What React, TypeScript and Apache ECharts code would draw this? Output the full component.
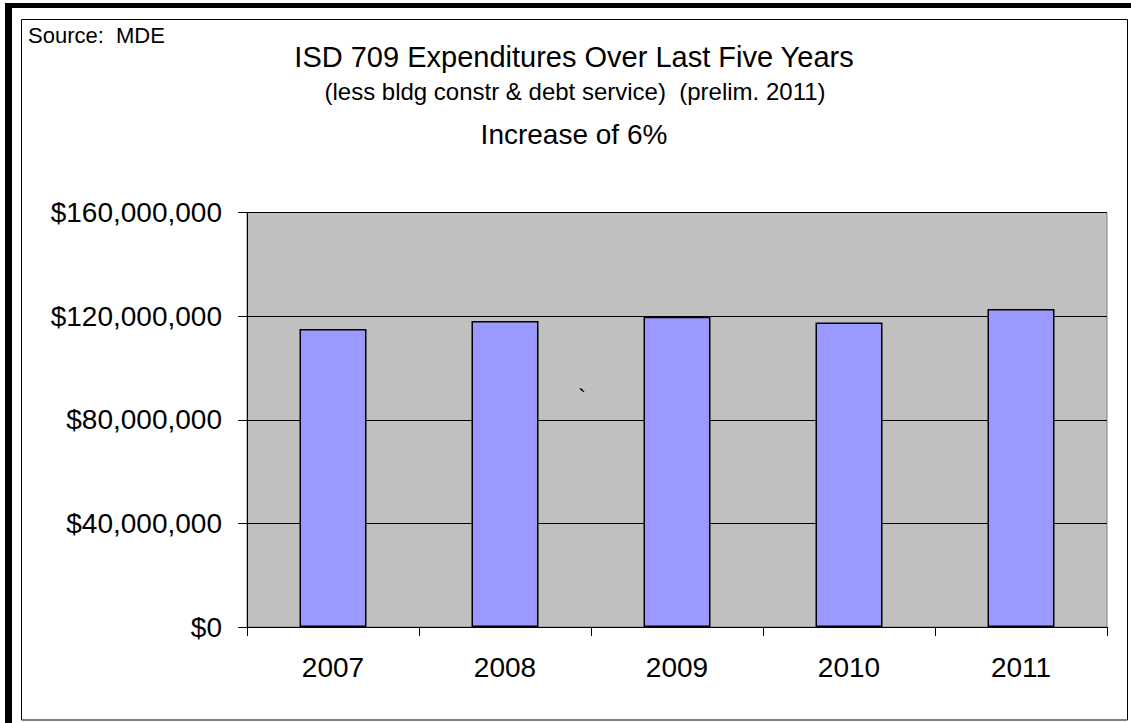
import React, { useEffect, useRef } from "react";
import * as echarts from "echarts";

const categories = ["2007", "2008", "2009", "2010", "2011"];
const expenditures = [115000000, 118100000, 119800000, 117500000, 122750000];
const yTicks = { min: 0, max: 160000000, interval: 40000000 };
const titleText = "ISD 709 Expenditures Over Last Five Years";
const subtitleText = "(less bldg constr & debt service)  (prelim. 2011)";
const increaseText = "Increase of 6%";
const sourceText = "Source:  MDE";

const FONT = '"Liberation Sans", Arial, sans-serif';

export default function App() {
  const ref = useRef<HTMLDivElement>(null);
  useEffect(() => {
    if (!ref.current) return;
    const chart = echarts.init(ref.current, null, { renderer: "svg" });
    chart.setOption({
      animation: false,
      backgroundColor: "#ffffff",
      textStyle: { fontFamily: FONT },
      grid: {
        left: 247,
        right: 24,
        top: 212.5,
        bottom: 96,
        show: true,
        backgroundColor: "#C0C0C0",
        borderColor: "#808080",
        borderWidth: 1,
      },
      xAxis: {
        type: "category",
        data: categories,
        boundaryGap: true,
        axisLine: { show: true, lineStyle: { color: "#000", width: 1 } },
        axisTick: { show: true, interval: 0, length: 9, inside: false, lineStyle: { color: "#000" } },
        axisLabel: { color: "#000", fontSize: 28, fontFamily: FONT, margin: 26, interval: 0 },
        splitLine: { show: false },
      },
      yAxis: {
        type: "value",
        min: yTicks.min,
        max: yTicks.max,
        interval: yTicks.interval,
        axisLine: { show: true, lineStyle: { color: "#000", width: 1 } },
        axisTick: { show: true, length: 9, inside: false, lineStyle: { color: "#000" } },
        axisLabel: {
          color: "#000",
          fontSize: 28,
          fontFamily: FONT,
          margin: 25,
          formatter: (v: number) => "$" + v.toLocaleString("en-US"),
        },
        splitLine: { show: true, lineStyle: { color: "#000", width: 1 } },
      },
      series: [
        {
          type: "bar",
          data: expenditures,
          barWidth: 67,
          itemStyle: { color: "#9999FF", borderColor: "#000", borderWidth: 1.5 },
        },
      ],
      graphic: [
        { type: "rect", shape: { x: 5, y: 3, width: 1126, height: 5 }, style: { fill: "#000" } },
        { type: "rect", shape: { x: 5, y: 3, width: 7, height: 720 }, style: { fill: "#000" } },
        {
          type: "rect",
          shape: { x: 21.5, y: 19.5, width: 1106, height: 700.5 },
          style: { fill: "none", stroke: "#000", lineWidth: 1 },
        },
        {
          type: "text",
          x: 28,
          y: 35,
          style: { text: sourceText, fontSize: 22, fontFamily: FONT, fill: "#000", textAlign: "left", textVerticalAlign: "middle" },
        },
        {
          type: "text",
          x: 574,
          y: 57,
          style: { text: titleText, fontSize: 29, fontFamily: FONT, fill: "#000", textAlign: "center", textVerticalAlign: "middle" },
        },
        {
          type: "text",
          x: 575,
          y: 91.5,
          style: { text: subtitleText, fontSize: 24, fontFamily: FONT, fill: "#000", textAlign: "center", textVerticalAlign: "middle" },
        },
        {
          type: "text",
          x: 574,
          y: 134,
          style: { text: increaseText, fontSize: 28, fontFamily: FONT, fill: "#000", textAlign: "center", textVerticalAlign: "middle" },
        },
        {
          type: "text",
          x: 578,
          y: 385,
          style: { text: "`", fontSize: 24, fontFamily: FONT, fill: "#000", textAlign: "left", textVerticalAlign: "top" },
        },
      ],
    });
    return () => chart.dispose();
  }, []);
  return (
    <div
      ref={ref}
      style={{ position: "fixed", left: 0, top: 0, width: 1131, height: 723, background: "#fff" }}
    />
  );
}
